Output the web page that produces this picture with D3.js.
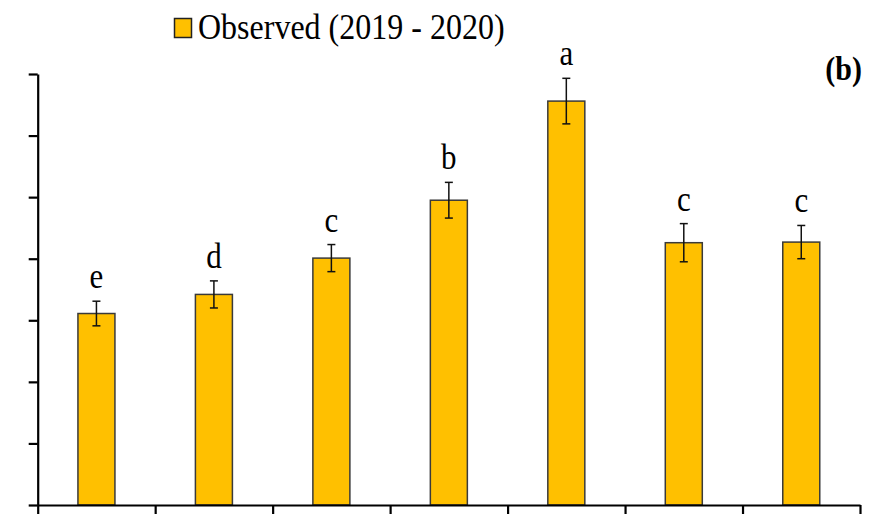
<!DOCTYPE html>
<html>
<head>
<meta charset="utf-8">
<script src="https://cdn.jsdelivr.net/npm/d3@7"></script>
<style>
  html, body { margin: 0; padding: 0; background: #fff; }
  svg { display: block; }
  text { font-family: "Liberation Serif", "Times New Roman", serif; }
</style>
</head>
<body>
<svg id="chart" width="873" height="514"></svg>
<script>
// ---- data (axis labels are cropped out of the reference) ----
const categories = ["T1", "T2", "T3", "T4", "T5", "T6", "T7"];
const observed = [3.11, 3.42, 4.01, 4.95, 6.56, 4.26, 4.27];
const errors = [0.20, 0.22, 0.22, 0.29, 0.37, 0.31, 0.27];
const letters = ["e", "d", "c", "b", "a", "c", "c"];
const yTicks = [0, 1, 2, 3, 4, 5, 6, 7];
const seriesName = "Observed (2019 - 2020)";
const panelLabel = "(b)";

// ---- layout ----
const plotLeft = 37.7, plotRight = 860, plotTop = 74, plotBottom = 505;
const barColor = "#FFC000";

const svg = d3.select("#chart");

const x = d3.scaleBand().domain(categories).range([plotLeft, plotRight]).paddingInner(0).paddingOuter(0);
const xEdge = d3.scaleLinear().domain([0, categories.length]).range([plotLeft, plotRight]);
const y = d3.scaleLinear().domain([0, 7]).range([plotBottom, plotTop]);

const barW = x.bandwidth() * 0.315;

// bars
svg.append("g").selectAll("rect")
  .data(categories)
  .join("rect")
  .attr("x", d => x(d) + x.bandwidth() / 2 - barW / 2)
  .attr("y", (d, i) => y(observed[i]))
  .attr("width", barW)
  .attr("height", (d, i) => y(0) - y(observed[i]))
  .attr("fill", barColor)
  .attr("stroke", "#3a3a3a")
  .attr("stroke-width", 1.5);

// error bars
const eg = svg.append("g").attr("stroke", "#111").attr("stroke-width", 1.5);
categories.forEach((c, i) => {
  const cx = x(c) + x.bandwidth() / 2;
  const y1 = y(observed[i] + errors[i]);
  const y2 = y(observed[i] - errors[i]);
  eg.append("line").attr("x1", cx).attr("x2", cx).attr("y1", y1).attr("y2", y2);
  eg.append("line").attr("x1", cx - 4).attr("x2", cx + 4).attr("y1", y1).attr("y2", y1);
  eg.append("line").attr("x1", cx - 4).attr("x2", cx + 4).attr("y1", y2).attr("y2", y2);
});

// significance letters
svg.append("g").selectAll("text")
  .data(categories)
  .join("text")
  .attr("transform", (d, i) => `translate(${x(d) + x.bandwidth() / 2},${y(observed[i] + errors[i]) - 13}) scale(1,1.15)`)
  .attr("text-anchor", "middle")
  .attr("font-size", 31)
  .attr("fill", "#000")
  .text((d, i) => letters[i]);

// y axis (tick labels are cropped off in the reference)
const yAxis = svg.append("g")
  .attr("transform", `translate(${plotLeft},0)`)
  .call(d3.axisLeft(y).tickValues(yTicks).tickSize(9).tickSizeOuter(0).tickFormat(""));
yAxis.select(".domain").attr("stroke", "#000").attr("stroke-width", 2.2);
yAxis.selectAll(".tick line").attr("stroke", "#000").attr("stroke-width", 2.2);

// x axis with ticks at category boundaries (category labels are cropped off in the reference)
const xAxis = svg.append("g")
  .attr("transform", `translate(0,${plotBottom})`)
  .call(d3.axisBottom(xEdge).tickValues(d3.range(categories.length + 1)).tickSize(12).tickSizeOuter(0).tickFormat(""));
xAxis.select(".domain").attr("stroke", "#000").attr("stroke-width", 2.2);
xAxis.selectAll(".tick line").attr("stroke", "#000").attr("stroke-width", 2.2);

// legend
const lg = svg.append("g");
lg.append("rect").attr("x", 174.5).attr("y", 18.5).attr("width", 17).attr("height", 19)
  .attr("fill", barColor).attr("stroke", "#222").attr("stroke-width", 1.5);
lg.append("text").attr("transform", "translate(198,38.5) scale(1,1.12)")
  .attr("font-size", 32).attr("fill", "#000").text(seriesName);

// panel label
svg.append("text").attr("transform", "translate(862,80) scale(1,1.15)")
  .attr("text-anchor", "end").attr("font-size", 30).attr("font-weight", "bold")
  .attr("fill", "#000").text(panelLabel);
</script>
</body>
</html>
